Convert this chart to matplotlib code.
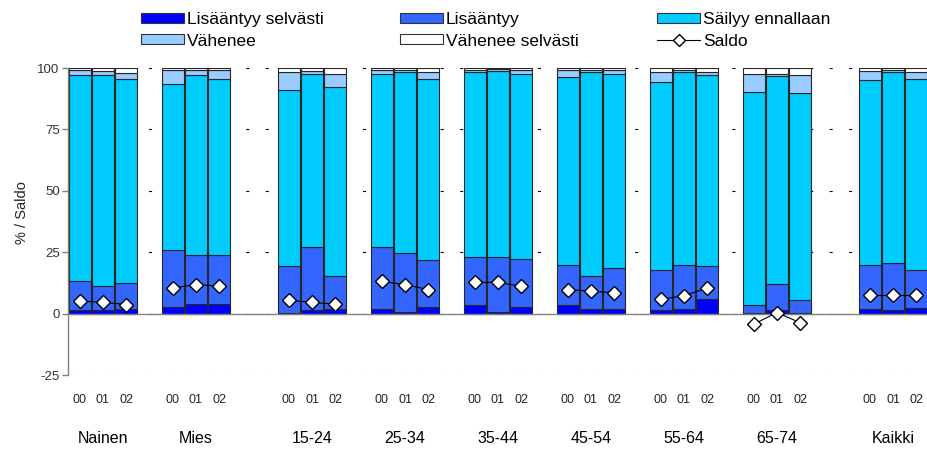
import numpy as np
import matplotlib
matplotlib.use('Agg')
import matplotlib.pyplot as plt
from matplotlib.patches import Patch
from matplotlib.lines import Line2D

plt.rcParams['font.family'] = ['Liberation Sans', 'DejaVu Sans']
plt.rcParams['lines.scale_dashes'] = False

groups = ['Nainen', 'Mies', '15-24', '25-34', '35-44', '45-54', '55-64', '65-74', 'Kaikki']
years = ['00', '01', '02']

# shares (%) per group, one value per year 00/01/02
lis_selv = [[1.4, 1.4, 2.0], [2.6, 3.8, 3.8], [0.4, 1.4, 2.0], [1.9, 0.5, 2.6], [3.3, 0.5, 2.6],
            [3.3, 2.0, 2.0], [1.4, 2.0, 5.8], [0.4, 1.4, 0.4], [2.0, 1.4, 2.4]]
lis = [[11.7, 9.7, 10.6], [23.1, 20.0, 20.0], [18.8, 25.7, 13.2], [25.2, 24.2, 19.1], [19.7, 22.5, 19.8],
       [16.6, 13.2, 16.6], [16.5, 17.9, 13.4], [2.9, 10.5, 5.0], [17.9, 19.2, 15.5]]
sailyy = [[84.1, 86.1, 82.9], [67.9, 73.4, 71.7], [71.9, 70.4, 76.9], [70.5, 73.8, 73.8], [75.5, 75.9, 75.2],
          [76.6, 83.3, 79.0], [76.5, 78.6, 78.0], [87.1, 85.0, 84.3], [75.2, 77.9, 77.6]]
vahenee = [[2.1, 1.6, 2.6], [5.7, 2.1, 3.8], [7.4, 1.4, 5.5], [1.7, 0.8, 2.7], [0.8, 0.6, 1.7],
           [2.8, 0.8, 1.7], [4.1, 0.8, 1.3], [7.2, 0.7, 7.5], [3.8, 0.8, 2.7]]
vah_selv = [[0.7, 1.2, 1.9], [0.7, 0.7, 0.7], [1.5, 1.1, 2.4], [0.7, 0.7, 1.8], [0.7, 0.5, 0.7],
            [0.7, 0.7, 0.7], [1.5, 0.7, 1.5], [2.4, 2.4, 2.8], [1.1, 0.7, 1.8]]
saldo = [[5.1, 4.6, 3.7], [10.4, 11.8, 11.2], [5.4, 4.6, 3.8], [13.1, 11.8, 9.8], [12.7, 12.7, 11.1],
         [9.8, 9.1, 8.5], [5.8, 7.3, 10.4], [-4.3, 0.4, -3.7], [7.7, 7.7, 7.7]]

series = [
    ('Lisääntyy selvästi', lis_selv, '#0000ff'),
    ('Lisääntyy', lis, '#3366ff'),
    ('Säilyy ennallaan', sailyy, '#00ccff'),
    ('Vähenee', vahenee, '#99ccff'),
    ('Vähenee selvästi', vah_selv, '#ffffff'),
]

# first slot of every group on the category axis (empty slots act as gaps)
starts = np.array([0, 4, 9, 13, 17, 21, 25, 29, 34])
xpos = (starts[:, None] + np.arange(3)[None, :]).ravel()

fig = plt.figure(figsize=(9.28, 4.5), dpi=100)
ax = fig.add_axes([68 / 928, 75 / 450, 1 - 68 / 928, 307 / 450])

bottom = np.zeros(len(xpos))
for name, vals, col in series:
    v = np.array(vals).ravel()
    ax.bar(xpos, v, width=0.95, bottom=bottom, color=col, edgecolor='#262626',
           linewidth=0.8, zorder=2)
    bottom += v

for i, s in enumerate(saldo):
    ax.plot(starts[i] + np.arange(3), s, color='black', lw=0.8, marker='D', ms=7,
            mfc='white', mec='black', mew=1.0, zorder=4)

ax.axhline(0, color='#808080', lw=1.0, zorder=3)

ax.set_xlim(-0.5, 36.5)
ax.set_ylim(-25, 100)
ax.set_yticks([-25, 0, 25, 50, 75, 100])
ax.set_yticklabels(['-25', '0', '25', '50', '75', '100'])
ax.yaxis.grid(True, color='black', lw=0.8, linestyle=(12, (2.2, 11.8)))
ax.set_axisbelow(True)
ax.tick_params(axis='y', length=4, width=1, color='#808080', labelsize=9.5,
               labelcolor='#333333', pad=2)
ax.set_xticks(xpos)
ax.set_xticklabels(years * len(groups))
ax.tick_params(axis='x', length=0, labelsize=9, labelcolor='#222222', pad=14)
for sp in ['top', 'right', 'bottom']:
    ax.spines[sp].set_visible(False)
ax.spines['left'].set_color('#808080')
ax.spines['left'].set_linewidth(1.0)
ax.set_ylabel('% / Saldo', fontsize=10.5, color='#222222')
ax.yaxis.set_label_coords(-0.045, 0.53)

for i, g in enumerate(groups):
    ax.text(starts[i] + 1, -51, g, ha='center', va='center', fontsize=11.5,
            family=['Liberation Sans Narrow', 'Liberation Sans'], color='black')

# legend: three columns placed by hand
handles = [Patch(facecolor=c, edgecolor='#333333', linewidth=0.8) for _, _, c in series]
saldo_h = Line2D([], [], color='black', lw=0.8, marker='D', ms=6, mfc='white', mec='black')
cols = [
    ([handles[0], handles[3]], ['Lisääntyy selvästi', 'Vähenee'], 141),
    ([handles[1], handles[4]], ['Lisääntyy', 'Vähenee selvästi'], 400),
    ([handles[2], saldo_h], ['Säilyy ennallaan', 'Saldo'], 657),
]
for h, l, x in cols:
    fig.legend(h, l, loc='upper left', bbox_to_anchor=(x / 928, 1 - 12 / 450), frameon=False,
               fontsize=12.5, handlelength=2.5, handleheight=0.5, handletextpad=0.15,
               labelspacing=0.38, borderpad=0, borderaxespad=0)

fig.savefig('out.png', dpi=100)
